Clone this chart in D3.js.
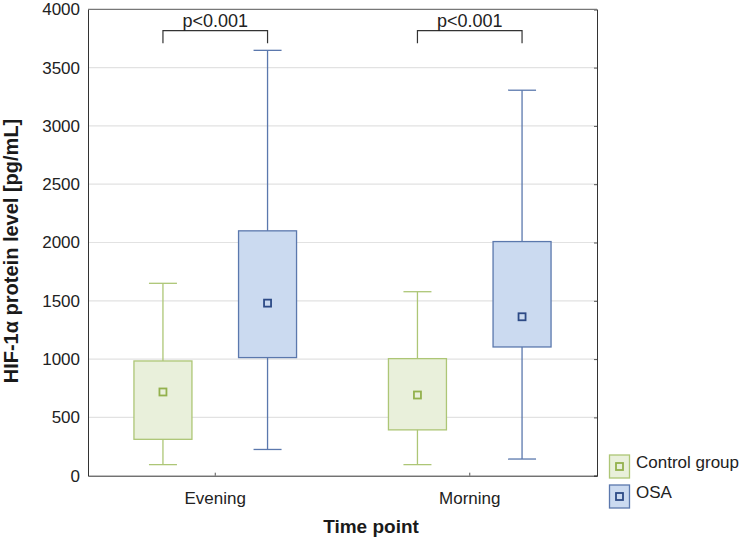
<!DOCTYPE html>
<html><head><meta charset="utf-8">
<script src="https://cdn.jsdelivr.net/npm/d3@7"></script>
<style>body{margin:0;background:#fff}svg{display:block;font-family:"Liberation Sans",Arial,sans-serif}</style>
</head><body><svg id="c" width="742" height="539"></svg>
<script>
const categories = ["Evening", "Morning"];
const groups = ["Control group", "OSA"];
// [min, q1, mean, q3, max] per category
const controlStats = [[95, 312, 718, 984, 1650], [95, 393, 692, 1004, 1578]];
const osaStats = [[225, 1013, 1480, 2100, 3648], [143, 1104, 1363, 2008, 3306]];
const yTicks = [0, 500, 1000, 1500, 2000, 2500, 3000, 3500, 4000];
const pLabels = ["p<0.001", "p<0.001"];

const W = 742, H = 539;
const m = {l: 88, r: 597, t: 9.3, b: 475.7};
const svg = d3.select("#c");
const x = d3.scaleBand().domain(categories).range([m.l, m.r]);
const xs = d3.scalePoint().domain(groups).range([-52.3, 52.3]);
const y = d3.scaleLinear().domain([0, 4000]).range([m.b, m.t]);

const col = {
  "Control group": {fill: "#e9f0db", stroke: "#adc676", mark: "#93b14d"},
  "OSA": {fill: "#cbdaf0", stroke: "#5b78ad", mark: "#2d4a86"}
};

// gridlines
svg.append("g").selectAll("line").data(yTicks.filter(v => v > 0 && v < 4000)).join("line")
  .attr("x1", m.l).attr("x2", m.r).attr("y1", d => y(d)).attr("y2", d => y(d))
  .attr("stroke", "#e2e2e2").attr("stroke-width", 1.2);

// left axis
const ya = svg.append("g").attr("transform", `translate(${m.l},0)`)
  .call(d3.axisLeft(y).tickValues(yTicks).tickFormat(d3.format("d")).tickSize(0).tickPadding(8));
ya.select(".domain").attr("stroke", "#333");
ya.selectAll("text").attr("font-size", 17).attr("fill", "#222")
  .attr("font-family", '"Liberation Sans",Arial,sans-serif');

// right axis w/ inward ticks
const yr = svg.append("g").attr("transform", `translate(${m.r},0)`)
  .call(d3.axisRight(y).tickValues(yTicks).tickSize(-3).tickFormat(""));
yr.select(".domain").attr("stroke", "#333");
yr.selectAll(".tick line").attr("stroke", "#555");

// bottom axis
const xa = svg.append("g").attr("transform", `translate(0,${m.b})`)
  .call(d3.axisBottom(x).tickSize(-3).tickPadding(16));
xa.select(".domain").attr("stroke", "#333");
xa.selectAll(".tick line").attr("stroke", "#555");
xa.selectAll("text").attr("font-size", 17).attr("fill", "#222")
  .attr("font-family", '"Liberation Sans",Arial,sans-serif');

// top border
svg.append("line").attr("x1", m.l).attr("x2", m.r).attr("y1", m.t).attr("y2", m.t)
  .attr("stroke", "#777").attr("stroke-width", 1.2);

// boxes
const boxW = 58, capW = 28, mk = 7;
const rows = [];
categories.forEach((c, i) => {
  rows.push({c, g: groups[0], s: controlStats[i]});
  rows.push({c, g: groups[1], s: osaStats[i]});
});
const bg = svg.append("g").selectAll("g").data(rows).join("g")
  .attr("transform", d => `translate(${x(d.c) + x.bandwidth() / 2 + xs(d.g)},0)`);
bg.append("line").attr("x1", 0).attr("x2", 0).attr("y1", d => y(d.s[4])).attr("y2", d => y(d.s[0]))
  .attr("stroke", d => col[d.g].stroke).attr("stroke-width", 1.3);
bg.append("line").attr("x1", -capW / 2).attr("x2", capW / 2).attr("y1", d => y(d.s[4])).attr("y2", d => y(d.s[4]))
  .attr("stroke", d => col[d.g].stroke).attr("stroke-width", 1.3);
bg.append("line").attr("x1", -capW / 2).attr("x2", capW / 2).attr("y1", d => y(d.s[0])).attr("y2", d => y(d.s[0]))
  .attr("stroke", d => col[d.g].stroke).attr("stroke-width", 1.3);
bg.append("rect").attr("x", -boxW / 2).attr("width", boxW)
  .attr("y", d => y(d.s[3])).attr("height", d => y(d.s[1]) - y(d.s[3]))
  .attr("fill", d => col[d.g].fill).attr("stroke", d => col[d.g].stroke).attr("stroke-width", 1.3);
bg.append("rect").attr("x", -mk / 2).attr("width", mk)
  .attr("y", d => y(d.s[2]) - mk / 2).attr("height", mk)
  .attr("fill", "none").attr("stroke", d => col[d.g].mark).attr("stroke-width", 1.8);

// significance brackets
categories.forEach((c, i) => {
  const cx = x(c) + x.bandwidth() / 2;
  const x1 = cx + xs(groups[0]), x2 = cx + xs(groups[1]);
  svg.append("path").attr("d", `M${x1},43.3V30.7H${x2}V43.3`)
    .attr("fill", "none").attr("stroke", "#333").attr("stroke-width", 1.2);
  svg.append("text").attr("x", (x1 + x2) / 2).attr("y", 26.5).attr("text-anchor", "middle")
    .attr("font-size", 18).attr("fill", "#222").text(pLabels[i]);
});

// axis titles
svg.append("text").attr("x", W / 2).attr("y", 532.5).attr("text-anchor", "middle")
  .attr("font-size", 19).attr("font-weight", "bold").attr("fill", "#1a1a1a").text("Time point");
svg.append("text").attr("transform", "translate(18,251) rotate(-90)").attr("text-anchor", "middle")
  .attr("font-size", 20).attr("font-weight", "bold").attr("fill", "#1a1a1a").text("HIF-1α protein level [pg/mL]");

// legend
const lg = svg.append("g").selectAll("g").data(groups).join("g")
  .attr("transform", (d, i) => `translate(609.5,${455 + i * 30})`);
lg.append("rect").attr("width", 20).attr("height", 23)
  .attr("fill", d => col[d].fill).attr("stroke", d => col[d].stroke).attr("stroke-width", 1.3);
lg.append("rect").attr("x", 6.5).attr("y", 8).attr("width", 7).attr("height", 7)
  .attr("fill", "none").attr("stroke", d => col[d].mark).attr("stroke-width", 1.8);
lg.append("text").attr("x", 26.5).attr("y", 12.5).attr("font-size", 17).attr("fill", "#222").text(d => d);
</script></body></html>
